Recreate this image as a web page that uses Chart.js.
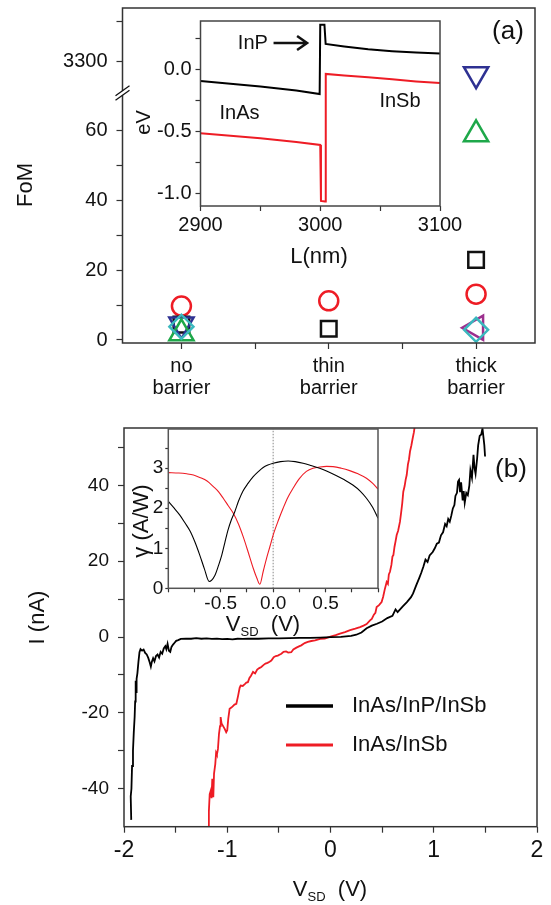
<!DOCTYPE html>
<html>
<head>
<meta charset="utf-8">
<title>FoM and I-V of InAs/InP/InSb nanowires</title>
<script src="https://cdn.jsdelivr.net/npm/chart.js@4.4.1/dist/chart.umd.min.js"></script>
<style>
  html, body { margin: 0; padding: 0; background: #fff; }
  #page { position: relative; width: 551px; height: 905px; overflow: hidden; }
  canvas { position: absolute; }
  #fomChart { left: 0; top: 0; }
  #bandChart { left: 120px; top: 10px; }
  #ivChart { left: 0; top: 410px; }
  #gammaChart { left: 120px; top: 420px; }
</style>
</head>
<body>
<div id="page">
  <canvas id="fomChart" width="551" height="410"></canvas>
  <canvas id="bandChart" width="360" height="265"></canvas>
  <canvas id="ivChart" width="551" height="495"></canvas>
  <canvas id="gammaChart" width="270" height="220"></canvas>
</div>
<script>
// ---- panel (a): figure of merit for each barrier type ----
const barrierPos = [1, 2, 3];
const barrierLabels = [['no', 'barrier'], ['thin', 'barrier'], ['thick', 'barrier']];
const catTicks = [1, 1.5, 2, 2.5, 3];
const fomSquare = [4.4, 3.2, 22.9];
const fomCircle = [9.7, 11.2, 13.1];
const fomTriangle = [1.9, null, 58.8];
const fomDiamond = [3.8, null, 2.9];
const fomLeftTri = [null, null, 3.5];
const fomDownTri = [4.4, null, null];
const fomDownTriHigh = [null, null, 3285];   // above the axis break
const fomLowTicks = [0, 10, 20, 30, 40, 50, 60];
const fomHighTicks = [3300, 3350];

// ---- inset (a): band profile ----
const cbL = [2900, 2950, 2980, 2999.5, 3000, 3003.5, 3004.5, 3020, 3040, 3060, 3080, 3100];
const cbE = [-0.089, -0.134, -0.165, -0.194, 0.365, 0.365, 0.21, 0.19, 0.167, 0.152, 0.141, 0.132];
const vbL = [2900, 2950, 2980, 3000, 3000.6, 3004, 3004.6, 3020, 3040, 3060, 3080, 3100];
const vbE = [-0.51, -0.551, -0.58, -0.605, -1.056, -1.06, -0.032, -0.045, -0.059, -0.075, -0.092, -0.105];
const bandXTicks = [2900, 2950, 3000, 3050, 3100];
const bandYTicks = [-1, -0.75, -0.5, -0.25, 0, 0.25];

// ---- panel (b): I-V curves ----
const blackV = [-1.930, -1.935, -1.928, -1.922, -1.913, -1.905, -1.897, -1.892, -1.887, -1.882,
  -1.878, -1.870, -1.860, -1.850, -1.840, -1.825, -1.810, -1.795, -1.780, -1.765,
  -1.750, -1.740, -1.730, -1.718, -1.705, -1.690, -1.675, -1.660, -1.645, -1.630,
  -1.615, -1.600, -1.590, -1.578, -1.565, -1.552, -1.540, -1.525, -1.510, -1.495,
  -1.475, -1.450, -1.400, -1.350, -1.300, -1.250, -1.200, -1.150, -1.100, -1.050,
  -1.000, -0.950, -0.900, -0.850, -0.800, -0.700, -0.600, -0.500, -0.400, -0.300,
  -0.200, -0.100, 0.000, 0.100, 0.200, 0.250, 0.300, 0.350, 0.400, 0.450,
  0.500, 0.550, 0.600, 0.630, 0.650, 0.700, 0.740, 0.780, 0.800, 0.830,
  0.860, 0.880, 0.900, 0.920, 0.940, 0.960, 0.990, 1.010, 1.030, 1.050,
  1.070, 1.090, 1.110, 1.125, 1.140, 1.155, 1.170, 1.185, 1.200, 1.210,
  1.225, 1.235, 1.245, 1.255, 1.265, 1.280, 1.290, 1.300, 1.315, 1.330,
  1.345, 1.355, 1.370, 1.385, 1.395, 1.405, 1.420, 1.430, 1.445, 1.460,
  1.472, 1.480, 1.490, 1.497];
const blackI = [-48.2, -42.0, -40.0, -34.0, -29.9, -25.0, -21.1, -17.0, -11.5, -14.5,
  -11.0, -9.5, -6.5, -4.0, -3.2, -3.6, -3.3, -4.2, -4.6, -5.5,
  -6.8, -7.8, -6.5, -5.6, -6.4, -5.0, -4.6, -5.4, -3.9, -4.4,
  -3.0, -2.4, -3.2, -1.8, -3.6, -3.9, -2.6, -2.0, -1.5, -1.0,
  -0.8, -0.5, -0.4, -0.45, -0.3, -0.45, -0.35, -0.5, -0.4, -0.55,
  -0.5, -0.6, -0.45, -0.5, -0.4, -0.45, -0.35, -0.35, -0.3, -0.25,
  -0.2, -0.15, -0.05, 0.05, 0.3, 0.6, 1.2, 2.3, 3.0, 3.5,
  4.1, 5.0, 5.6, 7.3, 6.6, 8.1, 9.2, 10.5, 11.5, 13.6,
  15.6, 17.0, 18.6, 20.4, 19.8, 21.5, 22.4, 23.4, 24.6, 24.9,
  26.8, 27.6, 29.8, 29.2, 31.1, 30.4, 32.0, 33.9, 34.8, 37.2,
  38.0, 41.0, 41.4, 38.2, 40.8, 36.0, 38.5, 35.4, 38.0, 37.4,
  40.0, 44.0, 42.0, 48.0, 44.5, 43.0, 47.0, 50.5, 53.0, 53.4,
  55.0, 53.0, 50.5, 47.6];
const redV = [-1.186, -1.178, -1.170, -1.160, -1.152, -1.145, -1.140, -1.135, -1.128, -1.116,
  -1.108, -1.100, -1.090, -1.080, -1.070, -1.064, -1.055, -1.040, -1.025, -1.010,
  -1.000, -0.990, -0.977, -0.960, -0.945, -0.930, -0.912, -0.895, -0.880, -0.870,
  -0.850, -0.830, -0.815, -0.800, -0.785, -0.770, -0.750, -0.730, -0.710, -0.690,
  -0.670, -0.650, -0.630, -0.610, -0.590, -0.573, -0.550, -0.530, -0.510, -0.490,
  -0.476, -0.455, -0.430, -0.410, -0.380, -0.360, -0.330, -0.300, -0.283, -0.250,
  -0.220, -0.186, -0.150, -0.100, -0.056, 0.000, 0.050, 0.092, 0.140, 0.190,
  0.240, 0.286, 0.320, 0.350, 0.383, 0.400, 0.420, 0.435, 0.447, 0.470,
  0.495, 0.510, 0.525, 0.544, 0.556, 0.565, 0.576, 0.590, 0.600, 0.609,
  0.620, 0.630, 0.641, 0.655, 0.673, 0.685, 0.695, 0.705, 0.718, 0.728,
  0.738, 0.750, 0.760, 0.770, 0.783, 0.796, 0.808, 0.818];
const redI = [-50.0, -46.0, -41.4, -40.5, -42.5, -37.4, -39.0, -42.2, -36.0, -33.5,
  -30.5, -31.0, -29.5, -25.5, -23.5, -21.1, -22.8, -23.5, -24.2, -25.1,
  -24.6, -21.5, -18.9, -18.6, -18.2, -17.8, -17.6, -15.5, -13.4, -12.8,
  -12.9, -12.4, -12.0, -11.9, -10.8, -10.2, -9.2, -9.6, -8.6, -8.2,
  -7.9, -7.4, -7.0, -6.8, -6.5, -6.2, -5.3, -5.0, -4.9, -4.6,
  -4.4, -3.9, -3.8, -4.1, -4.0, -3.3, -2.8, -2.4, -2.2, -1.6,
  -1.3, -1.05, -0.9, -0.5, -0.4, 0.1, 0.5, 0.9, 1.3, 1.8,
  2.2, 2.6, 3.0, 3.4, 4.4, 4.8, 5.9, 6.4, 7.9, 8.4,
  9.2, 10.6, 12.5, 14.5, 14.0, 16.5, 17.2, 19.0, 21.2, 21.6,
  23.8, 25.2, 26.9, 28.0, 30.4, 33.0, 35.3, 38.3, 39.8, 41.5,
  42.7, 45.5, 46.8, 48.9, 50.5, 52.4, 54.0, 56.0];
const ivXTicks = [-2, -1.5, -1, -0.5, 0, 0.5, 1, 1.5, 2];
const ivYTicks = [-40, -30, -20, -10, 0, 10, 20, 30, 40, 50];

// ---- inset (b): responsivity ----
const gBlackV = [-1.00, -0.95, -0.89, -0.84, -0.79, -0.745, -0.70, -0.655, -0.61, -0.556,
  -0.52, -0.49, -0.46, -0.43, -0.40, -0.365, -0.33, -0.29, -0.24, -0.19,
  -0.14, -0.095, -0.05, 0.00, 0.07, 0.143, 0.21, 0.286, 0.36, 0.444,
  0.52, 0.60, 0.68, 0.76, 0.83, 0.89, 0.95, 1.00];
const gBlack = [2.17, 2.02, 1.83, 1.63, 1.42, 1.15, 0.83, 0.48, 0.17, 0.32,
  0.58, 0.83, 1.15, 1.46, 1.70, 1.92, 2.18, 2.42, 2.62, 2.79,
  2.92, 3.02, 3.08, 3.125, 3.165, 3.18, 3.165, 3.125, 3.07, 3.00,
  2.92, 2.82, 2.71, 2.58, 2.43, 2.25, 2.02, 1.75];
const gRedV = [-1.00, -0.90, -0.825, -0.76, -0.70, -0.63, -0.57, -0.52, -0.476, -0.43,
  -0.38, -0.33, -0.286, -0.24, -0.19, -0.155, -0.127, -0.095, -0.063, -0.03,
  0.00, 0.05, 0.095, 0.14, 0.19, 0.25, 0.317, 0.38, 0.444, 0.51,
  0.571, 0.65, 0.73, 0.81, 0.89, 0.95, 1.00];
const gRed = [2.89, 2.88, 2.86, 2.83, 2.77, 2.68, 2.54, 2.41, 2.25, 2.07,
  1.875, 1.60, 1.29, 0.92, 0.50, 0.25, 0.10, 0.42, 0.75, 1.05,
  1.33, 1.70, 2.00, 2.27, 2.50, 2.74, 2.92, 3.00, 3.03, 3.045,
  3.04, 3.00, 2.94, 2.86, 2.75, 2.62, 2.48];
const zeroLineV = [0, 0];
const zeroLineG = [0, 4];
const gammaXTicks = [-1, -0.75, -0.5, -0.25, 0, 0.25, 0.5, 0.75, 1];
const gammaYTicks = [0, 0.5, 1, 1.5, 2, 2.5, 3, 3.5];

const FONT = "'Liberation Sans', Arial, Helvetica, sans-serif";
const RED = '#ee1c25';
Chart.defaults.font.family = FONT;
Chart.defaults.color = '#111';
Chart.defaults.animation = false;
Chart.defaults.responsive = false;
Chart.defaults.events = [];
Chart.defaults.layout.autoPadding = false;
Chart.defaults.plugins.legend.display = false;
Chart.defaults.plugins.tooltip.enabled = false;

function pts(xs, ys) {
  return xs.map((x, i) => ({ x, y: ys[i] })).filter(p => p.y !== null);
}

function fixedTicks(vals) {
  return scale => { scale.ticks = vals.map(v => ({ value: v })); };
}

// fixed axis box size, and no extra room reserved for overhanging labels
function fixSize(size) {
  return s => {
    if (s.isHorizontal()) { s.height = size; s.paddingLeft = 0; s.paddingRight = 0; }
    else { s.width = size; s.paddingTop = 0; s.paddingBottom = 0; }
  };
}

// common axis setup: ticks outside, no axis line (frame plugin draws the box)
function axis(o) {
  return {
    type: 'linear',
    min: o.min, max: o.max,
    position: o.position,
    stack: o.stack, stackWeight: o.stackWeight,
    afterBuildTicks: fixedTicks(o.ticks),
    afterFit: fixSize(o.size),
    border: { display: false },
    grid: { drawOnChartArea: false, tickLength: o.tickLength || 6, color: '#333', tickWidth: 1.2 },
    ticks: {
      autoSkip: false, maxRotation: 0, padding: o.padding,
      font: o.font, color: '#111', callback: o.label
    }
  };
}

const framePlugin = {
  id: 'frame',
  beforeDatasetsDraw(chart, args, opts) {
    if (!opts.fill) return;
    const a = chart.chartArea;
    chart.ctx.save();
    chart.ctx.fillStyle = opts.fill;
    chart.ctx.fillRect(a.left, a.top, a.width, a.height);
    chart.ctx.restore();
  },
  afterDatasetsDraw(chart, args, opts) {
    const { ctx, chartArea: a } = chart;
    ctx.save();
    ctx.strokeStyle = opts.color || '#333';
    ctx.lineWidth = opts.width || 1.5;
    ctx.strokeRect(a.left, a.top, a.width, a.height);
    ctx.restore();
  }
};

// free text, legend lines and subscripted axis titles
const textPlugin = {
  id: 'texts',
  afterDraw(chart, args, opts) {
    const ctx = chart.ctx;
    (opts.items || []).forEach(t => {
      ctx.save();
      if (t.line) {
        ctx.strokeStyle = t.color;
        ctx.lineWidth = t.width;
        ctx.beginPath();
        ctx.moveTo(t.line[0], t.y);
        ctx.lineTo(t.line[1], t.y);
        ctx.stroke();
        ctx.restore();
        return;
      }
      ctx.translate(t.x, t.y);
      if (t.rot) ctx.rotate(t.rot * Math.PI / 180);
      ctx.fillStyle = '#111';
      ctx.textBaseline = 'middle';
      if (t.parts) {
        // e.g. V + subscript SD + " (V)", centred as a group
        const widths = t.parts.map(p => { ctx.font = `${p.size}px ${FONT}`; return ctx.measureText(p.text).width; });
        let x = -widths.reduce((s, w) => s + w, 0) / 2;
        ctx.textAlign = 'left';
        t.parts.forEach((p, i) => {
          ctx.font = `${p.size}px ${FONT}`;
          ctx.fillText(p.text, x, p.dy || 0);
          x += widths[i];
        });
      } else {
        ctx.font = `${t.size}px ${FONT}`;
        ctx.textAlign = t.align || 'center';
        ctx.fillText(t.text, 0, 0);
      }
      ctx.restore();
    });
  }
};

const vsd = size => [
  { text: 'V', size },
  { text: 'SD', size: Math.round(size * 0.6), dy: size * 0.32 },
  { text: '  (V)', size }
];

// ---------------- panel (a) ----------------
const axisBreak = {
  id: 'axisBreak',
  afterDraw(chart) {
    const ctx = chart.ctx;
    const xl = chart.chartArea.left;
    const yb = chart.scales.yLow.top;
    ctx.save();
    ctx.fillStyle = '#fff';
    ctx.beginPath();
    ctx.moveTo(xl - 6, yb + 7); ctx.lineTo(xl + 6, yb - 3);
    ctx.lineTo(xl + 6, yb - 7); ctx.lineTo(xl - 6, yb + 3);
    ctx.closePath(); ctx.fill();
    ctx.strokeStyle = '#111';
    ctx.lineWidth = 1.3;
    [-2.2, 2.2].forEach(d => {
      ctx.beginPath();
      ctx.moveTo(xl - 7, yb + d + 5);
      ctx.lineTo(xl + 7, yb + d - 5);
      ctx.stroke();
    });
    ctx.restore();
  }
};

function marker(label, ys, style, color, radius, extra) {
  return Object.assign({
    label,
    data: pts(barrierPos, ys),
    showLine: false,
    pointStyle: style,
    pointRadius: radius,
    pointBorderColor: color,
    pointBackgroundColor: 'rgba(0,0,0,0)',
    pointBorderWidth: 2.5,
    clip: false,
    yAxisID: 'yLow'
  }, extra || {});
}

new Chart(document.getElementById('fomChart'), {
  type: 'scatter',
  data: {
    datasets: [
      marker('diamond', fomDiamond, 'rectRot', '#3ab8be', 12),
      marker('left triangle', fomLeftTri, 'triangle', '#9c2f8e', 14, { pointRotation: -90 }),
      marker('triangle', fomTriangle, 'triangle', '#1ea84a', 14),
      marker('down triangle', fomDownTri, 'triangle', '#2e3192', 14, { pointRotation: 180 }),
      marker('down triangle high', fomDownTriHigh, 'triangle', '#2e3192', 14, { pointRotation: 180, yAxisID: 'yHigh' }),
      marker('square', fomSquare, 'rect', '#111', 11),
      marker('circle', fomCircle, 'circle', RED, 9.5)
    ]
  },
  options: {
    layout: { padding: { top: 8, right: 16, left: 0, bottom: 0 } },
    scales: {
      x: axis({
        min: 0.6, max: 3.4, position: 'bottom', ticks: catTicks, padding: 6, size: 67,
        font: { size: 20, lineHeight: 1.1 },
        label: v => { const i = barrierPos.indexOf(v); return i >= 0 ? barrierLabels[i] : ''; }
      }),
      yLow: axis({
        min: -0.86, max: 70.6, position: 'left', stack: 'fom', stackWeight: 250,
        ticks: fomLowTicks, padding: 9, font: { size: 20 }, size: 122.5,
        label: v => (v % 20 === 0 ? String(v) : '')
      }),
      yHigh: axis({
        min: 3262, max: 3366, position: 'left', stack: 'fom', stackWeight: 85,
        ticks: fomHighTicks, padding: 9, font: { size: 20 }, size: 122.5,
        label: v => (v === 3300 ? '3300' : '')
      })
    },
    plugins: {
      frame: { color: '#333', width: 1.5 },
      texts: {
        items: [
          { text: 'FoM', x: 26, y: 185, size: 22, rot: -90 },
          { text: '(a)', x: 508, y: 32, size: 26 }
        ]
      }
    }
  },
  plugins: [framePlugin, axisBreak, textPlugin]
});

// ---------------- inset (a) ----------------
const noteText = ['InP', 'InAs', 'InSb'];
const noteL = [2943.7, 2932.6, 3066.6];
const noteE = [0.217, -0.347, -0.258];
const arrowL = [2961, 2989];
const arrowE = 0.217;

const bandNotes = {
  id: 'bandNotes',
  afterDatasetsDraw(chart) {
    const { ctx, scales: { x, y } } = chart;
    ctx.save();
    ctx.font = `20px ${FONT}`;
    ctx.fillStyle = '#111';
    ctx.textAlign = 'center';
    ctx.textBaseline = 'middle';
    noteText.forEach((t, i) => ctx.fillText(t, x.getPixelForValue(noteL[i]), y.getPixelForValue(noteE[i])));
    const x0 = x.getPixelForValue(arrowL[0]);
    const x1 = x.getPixelForValue(arrowL[1]);
    const ya = y.getPixelForValue(arrowE);
    ctx.strokeStyle = '#111';
    ctx.lineWidth = 2.5;
    ctx.beginPath();
    ctx.moveTo(x0, ya); ctx.lineTo(x1, ya);
    ctx.moveTo(x1 - 10, ya - 7); ctx.lineTo(x1, ya); ctx.lineTo(x1 - 10, ya + 7);
    ctx.stroke();
    ctx.restore();
  }
};

new Chart(document.getElementById('bandChart'), {
  type: 'scatter',
  data: {
    datasets: [
      { label: 'conduction band', data: pts(cbL, cbE), showLine: true, borderColor: '#000', borderWidth: 2, pointRadius: 0 },
      { label: 'valence band', data: pts(vbL, vbE), showLine: true, borderColor: RED, borderWidth: 2, pointRadius: 0 }
    ]
  },
  options: {
    layout: { padding: { top: 11, right: 40, left: 0, bottom: 0 } },
    scales: {
      x: axis({
        min: 2900, max: 3100, position: 'bottom', ticks: bandXTicks, padding: 2, tickLength: 5, size: 69,
        font: { size: 20 },
        label: v => (v % 100 === 0 ? String(v) : '')
      }),
      y: axis({
        min: -1.097, max: 0.395, position: 'left', ticks: bandYTicks, padding: 4, tickLength: 5, size: 80.5,
        font: { size: 20 },
        label: v => (v % 0.5 === 0 ? v.toFixed(1) : '')
      })
    },
    plugins: {
      frame: { color: '#444', width: 1.5, fill: '#fff' },
      texts: {
        items: [
          { text: 'eV', x: 24, y: 112.5, size: 20, rot: -90 },
          { text: 'L(nm)', x: 199, y: 247, size: 22 }
        ]
      }
    }
  },
  plugins: [framePlugin, bandNotes, textPlugin]
});

// ---------------- panel (b) ----------------
new Chart(document.getElementById('ivChart'), {
  type: 'scatter',
  data: {
    datasets: [
      { label: 'InAs/InP/InSb', data: pts(blackV, blackI), showLine: true, borderColor: '#000', borderWidth: 1.8, pointRadius: 0 },
      { label: 'InAs/InSb', data: pts(redV, redI), showLine: true, borderColor: RED, borderWidth: 1.8, pointRadius: 0 }
    ]
  },
  options: {
    layout: { padding: { top: 18, right: 14, left: 0, bottom: 0 } },
    scales: {
      x: axis({
        min: -2, max: 2, position: 'bottom', ticks: ivXTicks, padding: 4, size: 78.3,
        font: { size: 23 },
        label: v => (Number.isInteger(v) ? String(v) : '')
      }),
      y: axis({
        min: -50, max: 55.1, position: 'left', ticks: ivYTicks, padding: 9, size: 124,
        font: { size: 19 },
        label: v => (v % 20 === 0 ? String(v) : '')
      })
    },
    plugins: {
      frame: { color: '#333', width: 1.5 },
      texts: {
        items: [
          { text: 'I (nA)', x: 38, y: 207.5, size: 22, rot: -90 },
          { text: '(b)', x: 511, y: 60, size: 26 },
          { parts: vsd(22), x: 330, y: 480 },
          { line: [286, 333], y: 296, color: '#000', width: 3.5 },
          { line: [286, 333], y: 335, color: RED, width: 3 },
          { text: 'InAs/InP/InSb', x: 352, y: 296, size: 22, align: 'left' },
          { text: 'InAs/InSb', x: 352, y: 335, size: 22, align: 'left' }
        ]
      }
    }
  },
  plugins: [framePlugin, textPlugin]
});

// ---------------- inset (b) ----------------
new Chart(document.getElementById('gammaChart'), {
  type: 'scatter',
  data: {
    datasets: [
      { label: 'InAs/InP/InSb', data: pts(gBlackV, gBlack), showLine: true, borderColor: '#000', borderWidth: 1.1, pointRadius: 0, cubicInterpolationMode: 'monotone' },
      { label: 'InAs/InSb', data: pts(gRedV, gRed), showLine: true, borderColor: RED, borderWidth: 1.1, pointRadius: 0, cubicInterpolationMode: 'monotone' },
      { label: 'zero bias', data: pts(zeroLineV, zeroLineG), showLine: true, borderColor: '#888', borderWidth: 1, borderDash: [1.5, 1.5], pointRadius: 0 }
    ]
  },
  options: {
    layout: { padding: { top: 9, right: 12, left: 0, bottom: 0 } },
    scales: {
      x: axis({
        min: -1, max: 1, position: 'bottom', ticks: gammaXTicks, padding: 0, tickLength: 4, size: 51.7,
        font: { size: 19 },
        label: v => (Math.abs(v) === 0.5 || v === 0 ? v.toFixed(1) : '')
      }),
      y: axis({
        min: 0, max: 3.98, position: 'left', ticks: gammaYTicks, padding: 2, tickLength: 3, size: 48.3,
        font: { size: 19 },
        label: v => (Number.isInteger(v) ? String(v) : '')
      })
    },
    plugins: {
      frame: { color: '#555', width: 1.5, fill: '#fff' },
      texts: {
        items: [
          { text: 'γ (A/W)', x: 22, y: 101, size: 22, rot: -90 },
          { parts: vsd(22), x: 143, y: 205 }
        ]
      }
    }
  },
  plugins: [framePlugin, textPlugin]
});
</script>
</body>
</html>
